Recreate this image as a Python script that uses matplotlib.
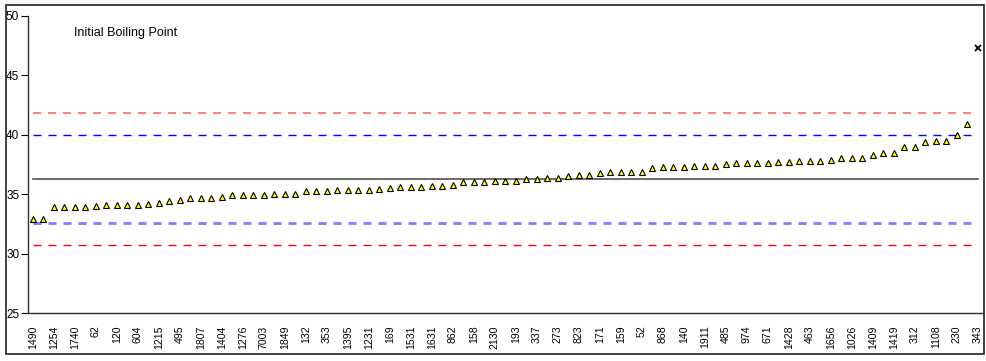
import matplotlib
matplotlib.use("Agg")
import matplotlib.pyplot as plt
from matplotlib.patches import Rectangle

plt.rcParams['font.family'] = ['Liberation Sans', 'DejaVu Sans']
plt.rcParams['lines.scale_dashes'] = False

# Sample IDs shown on the category axis (every second sample)
tick_labels = ['1490', '1254', '1740', '62', '120', '604', '1215', '495', '1807', '1404',
               '1276', '7003', '1849', '132', '353', '1395', '1231', '169', '1531', '1631',
               '862', '158', '2130', '193', '337', '273', '823', '171', '159', '52',
               '868', '140', '1911', '485', '974', '671', '1428', '463', '1656', '1026',
               '1409', '1419', '312', '1108', '230', '343']

# Initial boiling point results, sorted ascending (last one flagged as outlier)
ibp_values = [32.9, 32.9, 33.9, 33.9, 33.9, 33.9, 34.0, 34.1, 34.1, 34.1,
              34.1, 34.2, 34.3, 34.4, 34.55, 34.65, 34.65, 34.65, 34.8, 34.9,
              34.9, 34.9, 34.9, 35.0, 35.0, 35.0, 35.25, 35.25, 35.25, 35.35,
              35.35, 35.35, 35.35, 35.45, 35.55, 35.6, 35.6, 35.6, 35.7, 35.7,
              35.8, 36.0, 36.0, 36.0, 36.15, 36.15, 36.15, 36.25, 36.25, 36.35,
              36.35, 36.55, 36.65, 36.65, 36.75, 36.9, 36.9, 36.9, 36.9, 37.2,
              37.3, 37.3, 37.3, 37.4, 37.4, 37.4, 37.5, 37.6, 37.6, 37.6,
              37.6, 37.7, 37.7, 37.8, 37.8, 37.8, 37.9, 38.05, 38.05, 38.05,
              38.3, 38.5, 38.5, 39.0, 39.0, 39.4, 39.5, 39.5, 40.0, 40.9]
outlier_value = 47.3

# Consensus value and control limits
center_value = 36.25
upper_2s, lower_2s = 39.95, 32.55
upper_3s, lower_3s = 41.85, 30.7

n = len(ibp_values) + 1
xs = list(range(n))

fig = plt.figure(figsize=(9.86, 3.61), dpi=100)
ax = fig.add_axes([27.5 / 986, 48 / 361, (983 - 27.5) / 986, (313 - 16) / 361])

dash = (5.8, 5.0)
ax.plot([0, n - 1], [upper_3s, upper_3s], color='#ff7f7f', lw=1.4, dashes=dash)
ax.plot([0, n - 1], [upper_2s, upper_2s], color='#0000ff', lw=1.0, dashes=dash)
ax.plot([0, n - 1], [center_value, center_value], color='#505050', lw=1.2)
ax.plot([0, n - 1], [lower_2s, lower_2s], color='#7f7fff', lw=2.0, dashes=dash)
ax.plot([0, n - 1], [lower_3s, lower_3s], color='#ff0000', lw=1.0, dashes=dash)

ax.plot(xs[:-1], ibp_values, linestyle='none', marker='^', markersize=4.6,
        markerfacecolor='#ffff00', markeredgecolor='black', markeredgewidth=0.8)
ax.plot([xs[-1]], [outlier_value], linestyle='none', marker='x', markersize=4.5,
        color='black', markeredgewidth=1.3)

ax.set_xlim(-0.5, n - 0.5)
ax.set_ylim(25, 50)
ax.set_yticks([25, 30, 35, 40, 45, 50])
ax.set_xticks(xs[::2])
ax.set_xticklabels(tick_labels, rotation=90, fontsize=7.6)
ax.tick_params(axis='x', length=0, pad=9)
ax.tick_params(axis='y', length=5, width=0.8, direction='out', pad=1, labelsize=8.5)

for s in ('top', 'right'):
    ax.spines[s].set_visible(False)
for s in ('left', 'bottom'):
    ax.spines[s].set_color('#303030')
    ax.spines[s].set_linewidth(1.0)

fig.text(74 / 986, 1 - 33 / 361, 'Initial Boiling Point', fontsize=9,
         ha='left', va='center')

fig.patches.append(Rectangle((5.5 / 986, 7.5 / 361), 978.5 / 986, 348.5 / 361,
                             transform=fig.transFigure, fill=False,
                             edgecolor='#202020', linewidth=1.2))

fig.savefig('out.png', dpi=100)
